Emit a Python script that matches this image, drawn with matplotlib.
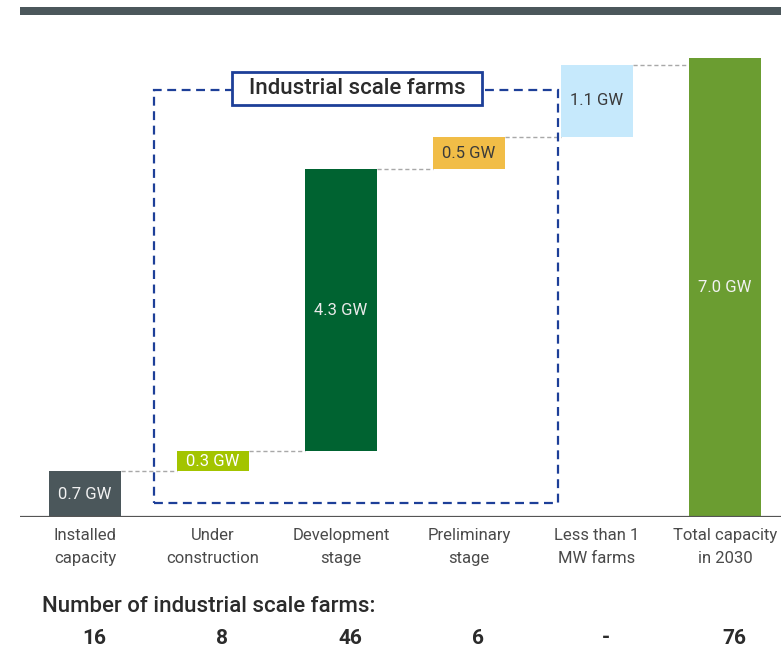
import matplotlib
matplotlib.use("Agg")
import matplotlib.pyplot as plt
from matplotlib.patches import Rectangle
import numpy as np

# Waterfall data (GW)
categories = ["Installed\ncapacity", "Under\nconstruction", "Development\nstage",
              "Preliminary\nstage", "Less than 1\nMW farms", "Total capacity\nin 2030"]
steps = [0.7, 0.3, 4.3, 0.5, 1.1]
total = 7.0
farm_counts = ["16", "8", "46", "6", "-", "76"]

bar_colors = ["#4b575b", "#a3c400", "#006331", "#f1bd47", "#c6e9fc", "#6b9d31"]
text_colors = ["#f2f2f2", "#ffffff", "#eaeaea", "#3a3a3a", "#3a3a3a", "#f2f2f2"]

plt.rcParams["font.family"] = ["Roboto", "DejaVu Sans"]

W, H = 781, 650
fig = plt.figure(figsize=(W / 100, H / 100), dpi=100)

# axes placed in pixel terms: baseline at y=517, left at x=20
px_per_gw = 459 / 7.0
ax_top_px = 20
ax_bottom_px = 517
ax = fig.add_axes([20 / W, (H - ax_bottom_px) / H, (W - 20) / W, (ax_bottom_px - ax_top_px) / H])
ax.set_ylim(0, (ax_bottom_px - ax_top_px) / px_per_gw)
x0 = -(85 - 20) / 128
ax.set_xlim(x0, x0 + (W - 20) / 128)
ax.axis("off")

x = np.arange(len(categories))
width = 72 / 128
bottoms = np.concatenate([[0], np.cumsum(steps)[:-1]])
heights = list(steps) + [total]
bottoms = list(bottoms) + [0]

ax.bar(x, heights, width=width, bottom=bottoms, color=bar_colors, zorder=3)

# value labels
for i, (b, h) in enumerate(zip(bottoms, heights)):
    ax.text(x[i], b + h / 2, f"{h:.1f} GW", ha="center", va="center",
            fontsize=12, color=text_colors[i], zorder=4)

# dashed connectors between consecutive bars
tops = [b + h for b, h in zip(bottoms, heights)]
for i in range(len(x) - 1):
    level = tops[i]
    ax.plot([x[i] + width / 2, x[i + 1] - width / 2], [level, level],
            ls=(0, (3, 2)), color="#a8a8a8", lw=1, zorder=2)

# baseline
ax.axhline(0, color="#555555", lw=1.6, zorder=5)

# dashed frame around industrial-scale categories
fx0, fx1 = (154 - 85) / 128, (558 - 85) / 128
fy0, fy1 = (517 - 503) / px_per_gw, (517 - 90) / px_per_gw
ax.add_patch(Rectangle((fx0, fy0), fx1 - fx0, fy1 - fy0, fill=False,
                       edgecolor="#1d3f98", lw=1.6, ls=(0, (4, 2.5)), zorder=2))

# frame title box
tx0, tx1 = (232 - 85) / 128, (482 - 85) / 128
ty0, ty1 = (517 - 105) / px_per_gw, (517 - 72) / px_per_gw
ax.add_patch(Rectangle((tx0, ty0), tx1 - tx0, ty1 - ty0, facecolor="white",
                       edgecolor="#1d3f98", lw=2, zorder=6))
ax.text((tx0 + tx1) / 2, (ty0 + ty1) / 2, "Industrial scale farms", ha="center",
        va="center", fontsize=16, color="#2b2b2b", fontweight="medium", zorder=7)

# category labels
for i, c in enumerate(categories):
    ax.text(x[i], -(547 - 517) / px_per_gw, c, ha="center", va="center", fontsize=12,
            color="#4a4a4a", linespacing=1.6)

# farm counts
ax.text(x0 + (42 - 20) / 128, -(607 - 517) / px_per_gw, "Number of industrial scale farms:",
        ha="left", va="center", fontsize=16, fontweight="medium", color="#2b2b2b")
for i, n in enumerate(farm_counts):
    ax.text(x[i] + 9 / 128, -(638 - 517) / px_per_gw, n, ha="center", va="center",
            fontsize=15, fontweight="bold", color="#2b2b2b")
for t in ax.texts:
    t.set_clip_on(False)

# header band
fig.add_artist(Rectangle((20 / W, 1 - 15 / H), (W - 20) / W, 8 / H,
                         transform=fig.transFigure, facecolor="#4b575b",
                         edgecolor="none"))

fig.savefig("out.png", dpi=100)
